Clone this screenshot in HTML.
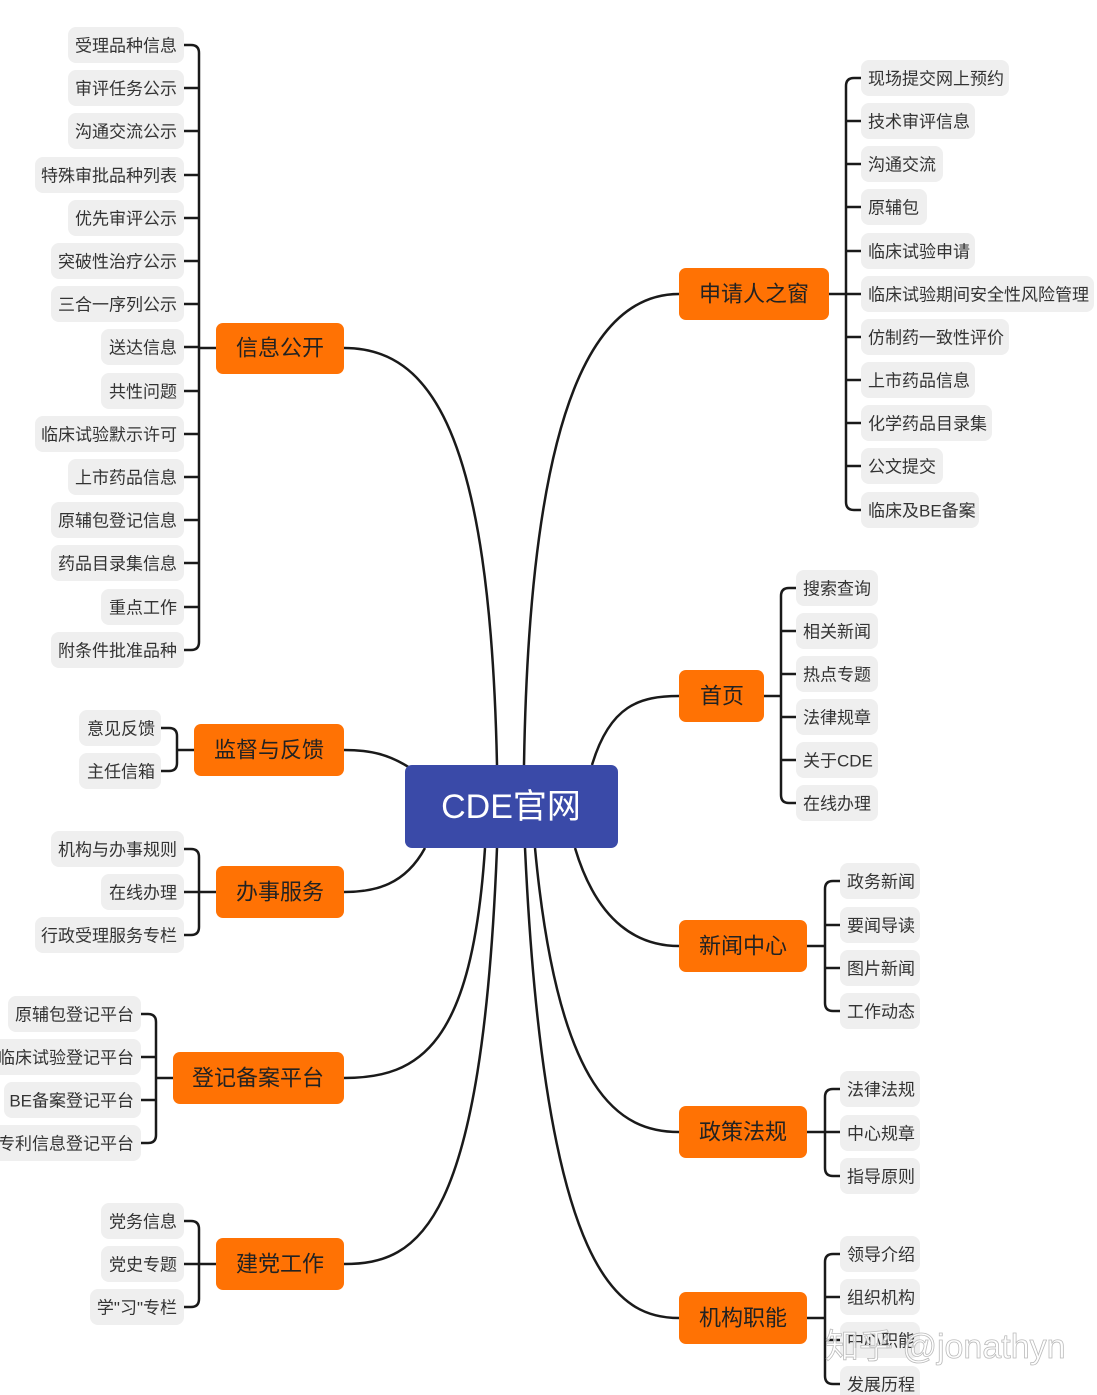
<!DOCTYPE html>
<html><head><meta charset="utf-8"><style>
html,body{margin:0;padding:0;background:#fff;}
svg{display:block;}
text{font-family:"Liberation Sans","Noto Sans CJK SC",sans-serif;}
.l rect{fill:#efefef;}
.l text{font-size:17px;fill:#333;dominant-baseline:central;}
.l{transform:translateY(0px);}
.l text{transform:translateY(1px);}
.m rect{fill:#ff7204;}
.m text{font-size:22px;fill:#222;dominant-baseline:central;text-anchor:middle;}
.c{fill:none;stroke:#1a1a1a;stroke-width:2.5;}
</style></head><body>
<svg width="1097" height="1395" viewBox="0 0 1097 1395" xmlns="http://www.w3.org/2000/svg">
<g class="c">
<path d="M497,765 C490,430 430,348 344,348"/>
<path d="M524,765 C530,390 600,294 679,294"/>
<path d="M592,765 C610,705 640,696 679,696"/>
<path d="M410,768 C390,755 372,750 344,750"/>
<path d="M425,848 C405,885 375,892 344,892"/>
<path d="M485,848 C472,1045 420,1078 344,1078"/>
<path d="M497,848 C482,1225 420,1264 344,1264"/>
<path d="M575,848 C598,925 640,946 679,946"/>
<path d="M535,848 C558,1095 620,1132 679,1132"/>
<path d="M525,848 C545,1280 620,1318 679,1318"/>
</g>
<g class="c">
<path d="M216,348 L199,348"/>
<path d="M184,45 L191,45 Q199,45 199,53 L199,642 Q199,650 191,650 L184,650"/>
<path d="M184,88 L199,88 M184,131 L199,131 M184,175 L199,175 M184,218 L199,218 M184,261 L199,261 M184,304 L199,304 M184,347 L199,347 M184,391 L199,391 M184,434 L199,434 M184,477 L199,477 M184,520 L199,520 M184,563 L199,563 M184,607 L199,607"/>
<path d="M194,750 L177,750"/>
<path d="M161,728 L169,728 Q177,728 177,736 L177,763 Q177,771 169,771 L161,771"/>
<path d="M216,892 L184,892"/>
<path d="M184,849 L191,849 Q199,849 199,857 L199,927 Q199,935 191,935 L184,935"/>
<path d="M173,1078 L156,1078"/>
<path d="M141,1014 L148,1014 Q156,1014 156,1022 L156,1135 Q156,1143 148,1143 L141,1143 M141,1057 L156,1057 M141,1100 L156,1100"/>
<path d="M216,1264 L184,1264"/>
<path d="M184,1221 L191,1221 Q199,1221 199,1229 L199,1299 Q199,1307 191,1307 L184,1307"/>
<path d="M829,294 L846,294"/>
<path d="M861,78 L854,78 Q846,78 846,86 L846,502 Q846,510 854,510 L861,510"/>
<path d="M846,121 L861,121 M846,164 L861,164 M846,207 L861,207 M846,251 L861,251 M846,294 L861,294 M846,337 L861,337 M846,380 L861,380 M846,423 L861,423 M846,466 L861,466"/>
<path d="M764,696 L781,696"/>
<path d="M796,588 L789,588 Q781,588 781,596 L781,795 Q781,803 789,803 L796,803 M781,631 L796,631 M781,674 L796,674 M781,717 L796,717 M781,760 L796,760"/>
<path d="M807,946 L825,946"/>
<path d="M840,881 L833,881 Q825,881 825,889 L825,1003 Q825,1011 833,1011 L840,1011 M825,925 L840,925 M825,968 L840,968"/>
<path d="M807,1132 L840,1132"/>
<path d="M840,1089 L833,1089 Q825,1089 825,1097 L825,1168 Q825,1176 833,1176 L840,1176"/>
<path d="M807,1318 L825,1318"/>
<path d="M840,1254 L833,1254 Q825,1254 825,1262 L825,1376 Q825,1384 833,1384 L840,1384 M825,1297 L840,1297 M825,1340 L840,1340"/>
</g>
<rect x="405" y="765" width="213" height="83" rx="7" fill="#3a4aa8"/>
<text x="511" y="807" font-size="34" fill="#fff" text-anchor="middle" dominant-baseline="central">CDE官网</text>
<g class="m">
<rect x="216" y="323" width="128" height="51" rx="7"/><text x="280" y="348">信息公开</text>
<rect x="194" y="724" width="150" height="52" rx="7"/><text x="269" y="750">监督与反馈</text>
<rect x="216" y="866" width="128" height="52" rx="7"/><text x="280" y="892">办事服务</text>
<rect x="173" y="1052" width="171" height="52" rx="7"/><text x="258" y="1078">登记备案平台</text>
<rect x="216" y="1238" width="128" height="52" rx="7"/><text x="280" y="1264">建党工作</text>
<rect x="679" y="268" width="150" height="52" rx="7"/><text x="754" y="294">申请人之窗</text>
<rect x="679" y="670" width="85" height="52" rx="7"/><text x="722" y="696">首页</text>
<rect x="679" y="920" width="128" height="52" rx="7"/><text x="743" y="946">新闻中心</text>
<rect x="679" y="1106" width="128" height="52" rx="7"/><text x="743" y="1132">政策法规</text>
<rect x="679" y="1292" width="128" height="52" rx="7"/><text x="743" y="1318">机构职能</text>
</g>
<g class="l" text-anchor="end">
<rect x="68" y="27" width="116" height="36" rx="8"/><text x="177" y="45">受理品种信息</text>
<rect x="68" y="70" width="116" height="36" rx="8"/><text x="177" y="88">审评任务公示</text>
<rect x="68" y="113" width="116" height="36" rx="8"/><text x="177" y="131">沟通交流公示</text>
<rect x="35" y="157" width="149" height="36" rx="8"/><text x="177" y="175">特殊审批品种列表</text>
<rect x="68" y="200" width="116" height="36" rx="8"/><text x="177" y="218">优先审评公示</text>
<rect x="51" y="243" width="133" height="36" rx="8"/><text x="177" y="261">突破性治疗公示</text>
<rect x="51" y="286" width="133" height="36" rx="8"/><text x="177" y="304">三合一序列公示</text>
<rect x="101" y="329" width="83" height="36" rx="8"/><text x="177" y="347">送达信息</text>
<rect x="101" y="373" width="83" height="36" rx="8"/><text x="177" y="391">共性问题</text>
<rect x="35" y="416" width="149" height="36" rx="8"/><text x="177" y="434">临床试验默示许可</text>
<rect x="68" y="459" width="116" height="36" rx="8"/><text x="177" y="477">上市药品信息</text>
<rect x="51" y="502" width="133" height="36" rx="8"/><text x="177" y="520">原辅包登记信息</text>
<rect x="51" y="545" width="133" height="36" rx="8"/><text x="177" y="563">药品目录集信息</text>
<rect x="101" y="589" width="83" height="36" rx="8"/><text x="177" y="607">重点工作</text>
<rect x="51" y="632" width="133" height="36" rx="8"/><text x="177" y="650">附条件批准品种</text>
<rect x="79" y="710" width="82" height="36" rx="8"/><text x="155" y="728">意见反馈</text>
<rect x="79" y="753" width="82" height="36" rx="8"/><text x="155" y="771">主任信箱</text>
<rect x="51" y="831" width="133" height="36" rx="8"/><text x="177" y="849">机构与办事规则</text>
<rect x="101" y="874" width="83" height="36" rx="8"/><text x="177" y="892">在线办理</text>
<rect x="35" y="917" width="149" height="36" rx="8"/><text x="177" y="935">行政受理服务专栏</text>
<rect x="8" y="996" width="133" height="36" rx="8"/><text x="134" y="1014">原辅包登记平台</text>
<rect x="-8" y="1039" width="149" height="36" rx="8"/><text x="134" y="1057">临床试验登记平台</text>
<rect x="4" y="1082" width="137" height="36" rx="8"/><text x="134" y="1100">BE备案登记平台</text>
<rect x="-8" y="1125" width="149" height="36" rx="8"/><text x="134" y="1143">专利信息登记平台</text>
<rect x="101" y="1203" width="83" height="36" rx="8"/><text x="177" y="1221">党务信息</text>
<rect x="101" y="1246" width="83" height="36" rx="8"/><text x="177" y="1264">党史专题</text>
<rect x="90" y="1289" width="94" height="36" rx="8"/><text x="177" y="1307">学"习"专栏</text>
</g>
<g class="l">
<rect x="861" y="60" width="148" height="36" rx="8"/><text x="868" y="78">现场提交网上预约</text>
<rect x="861" y="103" width="114" height="36" rx="8"/><text x="868" y="121">技术审评信息</text>
<rect x="861" y="146" width="82" height="36" rx="8"/><text x="868" y="164">沟通交流</text>
<rect x="861" y="189" width="66" height="36" rx="8"/><text x="868" y="207">原辅包</text>
<rect x="861" y="233" width="114" height="36" rx="8"/><text x="868" y="251">临床试验申请</text>
<rect x="861" y="276" width="233" height="36" rx="8"/><text x="868" y="294">临床试验期间安全性风险管理</text>
<rect x="861" y="319" width="148" height="36" rx="8"/><text x="868" y="337">仿制药一致性评价</text>
<rect x="861" y="362" width="114" height="36" rx="8"/><text x="868" y="380">上市药品信息</text>
<rect x="861" y="405" width="131" height="36" rx="8"/><text x="868" y="423">化学药品目录集</text>
<rect x="861" y="448" width="82" height="36" rx="8"/><text x="868" y="466">公文提交</text>
<rect x="861" y="492" width="118" height="36" rx="8"/><text x="868" y="510">临床及BE备案</text>
<rect x="796" y="570" width="82" height="36" rx="8"/><text x="803" y="588">搜索查询</text>
<rect x="796" y="613" width="82" height="36" rx="8"/><text x="803" y="631">相关新闻</text>
<rect x="796" y="656" width="82" height="36" rx="8"/><text x="803" y="674">热点专题</text>
<rect x="796" y="699" width="82" height="36" rx="8"/><text x="803" y="717">法律规章</text>
<rect x="796" y="742" width="82" height="36" rx="8"/><text x="803" y="760">关于CDE</text>
<rect x="796" y="785" width="82" height="36" rx="8"/><text x="803" y="803">在线办理</text>
<rect x="840" y="863" width="80" height="36" rx="8"/><text x="847" y="881">政务新闻</text>
<rect x="840" y="907" width="80" height="36" rx="8"/><text x="847" y="925">要闻导读</text>
<rect x="840" y="950" width="80" height="36" rx="8"/><text x="847" y="968">图片新闻</text>
<rect x="840" y="993" width="80" height="36" rx="8"/><text x="847" y="1011">工作动态</text>
<rect x="840" y="1071" width="80" height="36" rx="8"/><text x="847" y="1089">法律法规</text>
<rect x="840" y="1115" width="80" height="36" rx="8"/><text x="847" y="1133">中心规章</text>
<rect x="840" y="1158" width="80" height="36" rx="8"/><text x="847" y="1176">指导原则</text>
<rect x="840" y="1236" width="80" height="36" rx="8"/><text x="847" y="1254">领导介绍</text>
<rect x="840" y="1279" width="80" height="36" rx="8"/><text x="847" y="1297">组织机构</text>
<rect x="840" y="1322" width="80" height="36" rx="8"/><text x="847" y="1340">中心职能</text>
<rect x="840" y="1366" width="80" height="36" rx="8"/><text x="847" y="1384">发展历程</text>
</g>
<text x="825" y="1347" font-size="34" fill="#fff" fill-opacity="0.75" stroke="#bbb" stroke-width="0.8" dominant-baseline="central">知乎 @jonathyn</text>
</svg>
</body></html>
